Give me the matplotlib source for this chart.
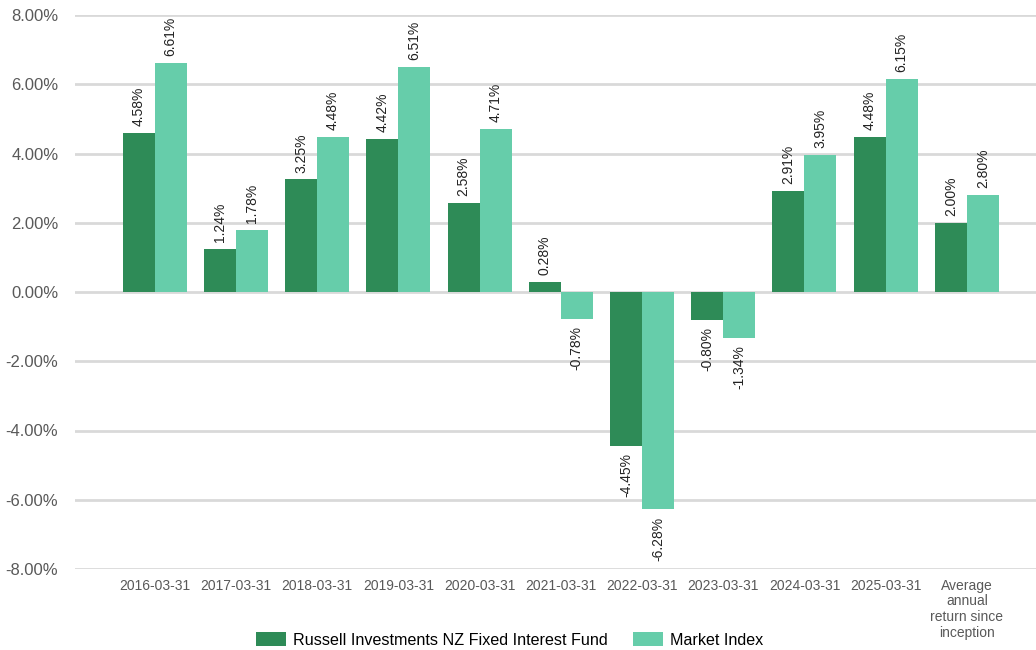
import matplotlib
matplotlib.use("Agg")
import matplotlib.pyplot as plt
import numpy as np

categories = ["2016-03-31", "2017-03-31", "2018-03-31", "2019-03-31", "2020-03-31",
              "2021-03-31", "2022-03-31", "2023-03-31", "2024-03-31", "2025-03-31",
              "Average\nannual\nreturn since\ninception"]
fund = [4.58, 1.24, 3.25, 4.42, 2.58, 0.28, -4.45, -0.80, 2.91, 4.48, 2.00]
index = [6.61, 1.78, 4.48, 6.51, 4.71, -0.78, -6.28, -1.34, 3.95, 6.15, 2.80]
series_names = ["Russell Investments NZ Fixed Interest Fund", "Market Index"]
yticks = [-8, -6, -4, -2, 0, 2, 4, 6, 8]

plt.rcParams['font.family'] = ['Liberation Sans', 'DejaVu Sans']

fig = plt.figure(figsize=(10.36, 6.5), dpi=100)
ax = fig.add_axes([75/1036, 1-569/650, 1-75/1036, (569-15)/650])

x = np.arange(len(categories))
w = 0.394
c1, c2 = "#2E8B57", "#66CDAA"
b1 = ax.bar(x - w/2, fund, w, color=c1, label=series_names[0], zorder=3)
b2 = ax.bar(x + w/2, index, w, color=c2, label=series_names[1], zorder=3)

for bars, vals in ((b1, fund), (b2, index)):
    for bar, v in zip(bars, vals):
        cx = bar.get_x() + bar.get_width()/2
        if v >= 0:
            ax.annotate(f"{v:.2f}%", (cx, v), xytext=(0, 5), textcoords="offset points",
                        rotation=90, ha="center", va="bottom", fontsize=10, color="#222222")
        else:
            ax.annotate(f"{v:.2f}%", (cx, v), xytext=(0, -5), textcoords="offset points",
                        rotation=90, ha="center", va="top", fontsize=10, color="#222222")

ax.set_ylim(-8, 8)
ax.set_xlim(-0.98, 10.85)
ax.set_yticks(yticks)
ax.set_yticklabels([f"{t:.2f}%" for t in yticks], fontsize=12, color="#595959")
ax.set_xticks(x)
ax.set_xticklabels(categories, fontsize=10, color="#595959", linespacing=1.15)
ax.tick_params(axis="both", length=0)
ax.tick_params(axis="y", pad=12)
ax.tick_params(axis="x", pad=7)
for s in ax.spines.values():
    s.set_visible(False)
ax.yaxis.grid(True, color="#d9d9d9", linewidth=2, zorder=0)
ax.set_axisbelow(True)

fig.legend(handles=[b1, b2], labels=series_names, loc="center",
           bbox_to_anchor=(0.492, 1-640/650), ncol=2, frameon=False, fontsize=11.6,
           handlelength=1.85, handleheight=0.9, columnspacing=1.6, handletextpad=0.45)

fig.savefig("out.png", dpi=100)
